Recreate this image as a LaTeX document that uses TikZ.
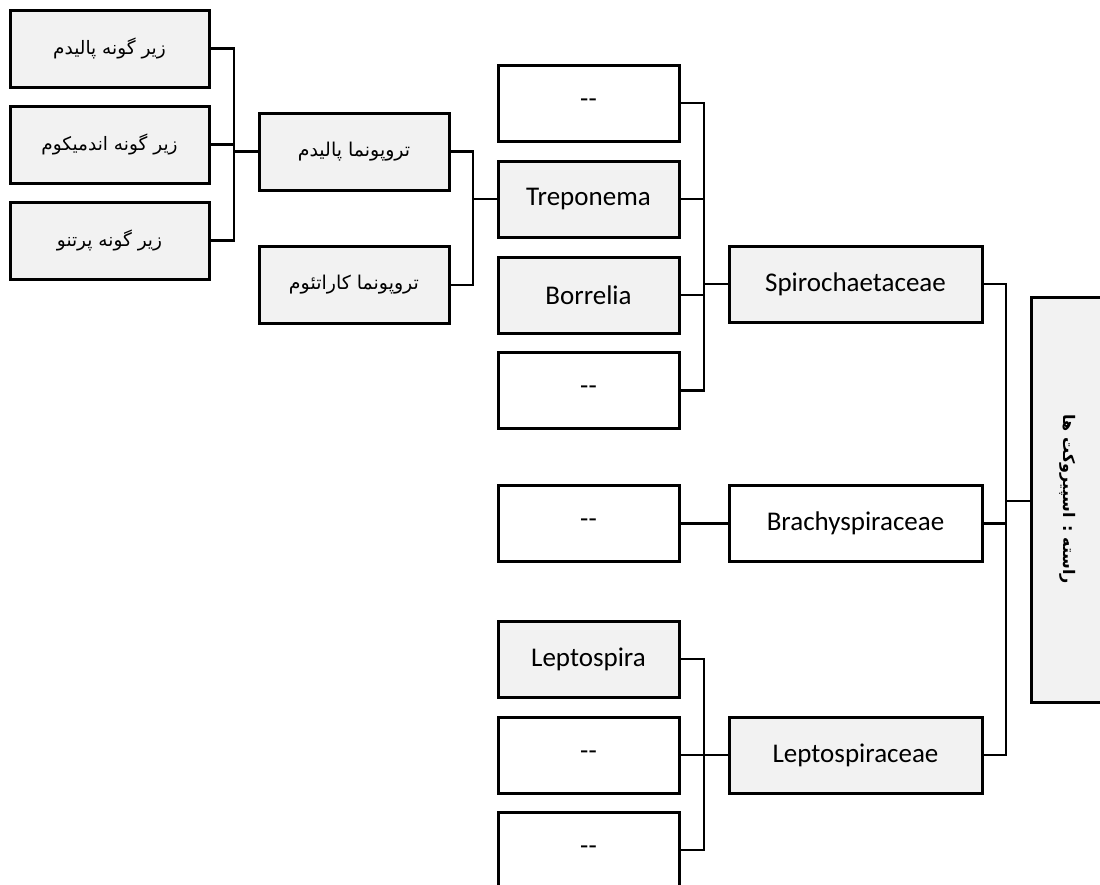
\documentclass[tikz,border=0pt]{standalone}
\usepackage{fontspec}
\setmainfont{Carlito}
\newfontfamily\fafont[Script=Arabic]{DejaVu Sans}
\TeXXeTstate=1
\usepackage{tikz}
\usetikzlibrary{positioning,calc}
\definecolor{boxgray}{HTML}{F2F2F2}
\newcommand{\fa}[1]{{\fafont\beginR #1\endR}}

\begin{document}
\begin{tikzpicture}[x=1pt,y=-1pt,
  box/.style={draw,line width=3pt,inner sep=0pt,font=\fontsize{27}{31}\selectfont},
  grey/.style={box,fill=boxgray},
  white/.style={box,fill=white},
  leaf/.style={minimum width=199pt,minimum height=77pt,font=\fontsize{18.5}{23}\selectfont},
  mid/.style={minimum width=190pt,minimum height=77pt,font=\fontsize{19}{23}\selectfont},
  genus/.style={minimum width=181pt,minimum height=76pt},
  family/.style={minimum width=253pt,minimum height=76pt},
  link/.style={line width=2.7pt}]
\useasboundingbox (0,0) rectangle (1100,884);
\node[grey,leaf] (L1) at (109.5,48.5) {\fa{زیر گونه پالیدم}};
\node[grey,leaf] (L2) at (109.5,144.5) {\fa{زیر گونه اندمیکوم}};
\node[grey,leaf] (L3) at (109.5,240.5) {\fa{زیر گونه پرتنو}};
\node[grey,mid] (P1) at (354,151.5) {\fa{تروپونما پالیدم}};
\node[grey,mid] (P2) at (354,285) {\fa{تروپونما کاراتئوم}};
\node[white,genus] (G1) at (588.5,103) {-{}-};
\node[grey,genus] (G2) at (588.5,199) {Treponema};
\node[grey,genus] (G3) at (588.5,295) {Borrelia};
\node[white,genus] (G4) at (588.5,390.5) {-{}-};
\node[white,genus] (B1) at (588.5,523.5) {-{}-};
\node[grey,genus] (G5) at (588.5,659) {Leptospira};
\node[white,genus] (G6) at (588.5,755) {-{}-};
\node[white,genus] (G7) at (588.5,850) {-{}-};
\node[grey,family] (F1) at (855.5,284) {Spirochaetaceae};
\node[white,family] (F2) at (855.5,523.5) {Brachyspiraceae};
\node[grey,family] (F3) at (855.5,755) {Leptospiraceae};
\node[grey,minimum width=405pt,minimum height=74pt,rotate=-90,font=\fontsize{16}{20}\selectfont\bfseries] (O) at (1068,499.5) {\fa{راسته : اسپیروکت ها}};
\coordinate (jL) at (234,151.5);
\coordinate (jP) at (473,199);
\coordinate (jG) at (704,284);
\coordinate (jE) at (704,755);
\coordinate (jF) at (1006,501);
\draw[link] (L1.east) -| (jL) |- (L3.east);
\draw[link] (L2.east) -- (L2.east -| jL);
\draw[link] (jL) -- (P1.west);
\draw[link] (P1.east) -| (jP) |- (P2.east);
\draw[link] (jP) -- (G2.west);
\draw[link] (G1.east) -| (jG) |- (G4.east);
\draw[link] (G2.east) -- (G2.east -| jG);
\draw[link] (G3.east) -- (G3.east -| jG);
\draw[link] (jG) -- (F1.west);
\draw[link] (B1.east) -- (F2.west);
\draw[link] (G5.east) -| (jE) |- (G7.east);
\draw[link] (G6.east) -- (F3.west);
\draw[link] (F1.east) -| (jF) |- (F3.east);
\draw[link] (F2.east) -- (F2.east -| jF);
\draw[link] (jF) -- (jF -| O.south);
\end{tikzpicture}
\end{document}
